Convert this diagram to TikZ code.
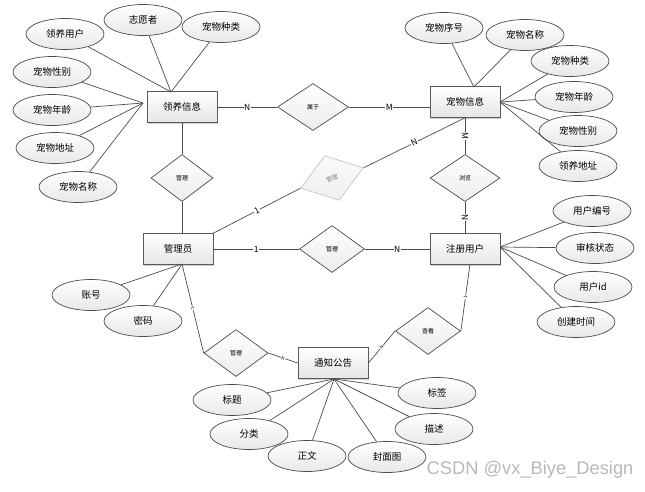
\documentclass[tikz,border=0pt]{standalone}
\usepackage{fontspec}
\setmainfont{Noto Sans CJK SC}
\newfontfamily\wmfont{Liberation Sans}
\usetikzlibrary{shapes.geometric,shadows}
\begin{document}
\begin{tikzpicture}[x=1pt,y=-1pt,line width=0.7pt,
    entity/.style={rectangle,draw=gray!70!black,top color=white,bottom color=gray!20,minimum width=70pt,minimum height=31pt,font=\fontsize{9.5}{10}\selectfont,drop shadow={shadow xshift=1.2pt,shadow yshift=-1.2pt,fill=gray!60,opacity=0.6}},
    attr/.style={ellipse,draw=gray!60!black,top color=white,bottom color=gray!18,minimum width=78pt,minimum height=31pt,inner sep=0pt,font=\fontsize{9.5}{10}\selectfont},
    rel/.style={diamond,draw=gray!60!black,top color=white,bottom color=gray!15,minimum width=68pt,minimum height=47pt,inner sep=0pt,font=\fontsize{6}{6}\selectfont},
    card/.style={fill=white,inner sep=0.6pt,font=\fontsize{8.5}{8.5}\selectfont},
    tinycard/.style={card,sloped,font=\fontsize{4.5}{4.5}\selectfont}]
    \path[use as bounding box,fill=white] (0,0) rectangle (645,491);

    % entities
    \node[entity] (lyxx) at (182,107) {领养信息};
    \node[entity] (cwxx) at (465,102) {宠物信息};
    \node[entity] (gly) at (178,249) {管理员};
    \node[entity] (zcyh) at (465,249) {注册用户};
    \node[entity] (tzgg) at (333,363) {通知公告};

    % relations
    \node[rel,minimum width=71pt] (sy) at (313,107) {属于};
    \node[rel,draw=gray!45,top color=gray!4,bottom color=gray!12,text=gray,rotate=18,minimum width=66pt] (glcw) at (332,178) {管理};
    \node[rel,minimum width=62pt] (glly) at (182,178) {管理};
    \node[rel,minimum width=70pt] (ll) at (465,178) {浏览};
    \node[rel,minimum width=65pt] (glyh) at (332,249) {管理};
    \node[rel,minimum width=64pt] (glgg) at (236,353) {管理};
    \node[rel,minimum width=65pt] (ck) at (428,331) {查看};

    % attributes
    \node[attr] (lyyh) at (65,34) {领养用户};
    \node[attr] (zyz) at (143,20) {志愿者};
    \node[attr] (cwzl1) at (221,27) {宠物种类};
    \node[attr] (cwxb1) at (52,72) {宠物性别};
    \node[attr] (cwnl1) at (52,110) {宠物年龄};
    \node[attr] (cwdz) at (55,148) {宠物地址};
    \node[attr] (cwmc1) at (78,187) {宠物名称};

    \node[attr] (cwxh) at (444,28) {宠物序号};
    \node[attr] (cwmc2) at (525,35) {宠物名称};
    \node[attr] (cwzl2) at (570,61) {宠物种类};
    \node[attr] (cwnl2) at (574,97) {宠物年龄};
    \node[attr] (cwxb2) at (578,131) {宠物性别};
    \node[attr] (lydz) at (578,166) {领养地址};

    \node[attr] (yhbh) at (592,211) {用户编号};
    \node[attr] (shzt) at (595,248) {审核状态};
    \node[attr] (yhid) at (593,287) {用户id};
    \node[attr] (cjsj) at (576,322) {创建时间};

    \node[attr] (zh) at (91,295) {账号};
    \node[attr] (mm) at (143,321) {密码};

    \node[attr] (bt) at (232,400) {标题};
    \node[attr] (fl) at (249,434) {分类};
    \node[attr] (zw) at (307,456) {正文};
    \node[attr] (fmt) at (387,457) {封面图};
    \node[attr] (ms) at (434,429) {描述};
    \node[attr] (bq) at (437,393) {标签};

    \coordinate (lyxx-t) at (171,92);
    \coordinate (lyxx-l) at (143,103);
    \coordinate (cwxx-t) at (474,87);
    \coordinate (cwxx-r) at (500,102);
    \coordinate (zcyh-r) at (500,247);
    \coordinate (zcyh-b) at (470,264);
    \coordinate (gly-b) at (182,264);
    \coordinate (tzgg-b) at (334,379);

    \path[draw=gray!60!black]
        (lyyh) edge (lyxx-t)
        (zyz) edge (lyxx-t)
        (cwzl1) edge (lyxx-t)
        (cwxb1) edge (lyxx-l)
        (cwnl1) edge (lyxx-l)
        (cwdz) edge (lyxx-l)
        (cwmc1) edge (lyxx-l)
        (cwxh) edge (cwxx-t)
        (cwmc2) edge (cwxx-t)
        (cwzl2) edge (cwxx-r)
        (cwnl2) edge (cwxx-r)
        (cwxb2) edge (cwxx-r)
        (lydz) edge (cwxx-r)
        (yhbh) edge (zcyh-r)
        (shzt) edge (zcyh-r)
        (yhid) edge (zcyh-r)
        (cjsj) edge (zcyh-r)
        (zh) edge (gly-b)
        (mm) edge (gly-b)
        (bt) edge (tzgg-b)
        (fl) edge (tzgg-b)
        (zw) edge (tzgg-b)
        (fmt) edge (tzgg-b)
        (ms) edge (tzgg-b)
        (bq) edge (tzgg-b)
        ;

    \path[draw=gray!60!black]
        (lyxx) edge node[card] {N} (sy)
        (sy.east) edge node[card] {M} (sy.east -| cwxx.west)
        (lyxx) edge (glly)
        (glly.south) edge (glly.south |- gly.north)
        (gly.north east) edge node[card,sloped] {1} (glcw.west)
        (glcw.east) edge node[card,sloped] {N} (cwxx.south)
        (cwxx) edge node[card,sloped] {M} (ll)
        (ll) edge node[card,sloped] {N} (zcyh)
        (gly) edge node[card] {1} (glyh)
        (glyh) edge node[card] {N} (zcyh)
        (gly-b) edge node[tinycard] {1} (glgg.west)
        (glgg.east) edge node[tinycard] {N} (tzgg.west)
        (zcyh-b) edge node[tinycard] {1} (ck.east)
        (ck.west) edge node[tinycard] {N} (tzgg.east)
        ;

    \node[anchor=west,text=gray!55,font=\wmfont\fontsize{18.3}{18.3}\selectfont] (wm) at (423,470) {CSDN @vx\_Biye\_Design};
\end{tikzpicture}
\end{document}
